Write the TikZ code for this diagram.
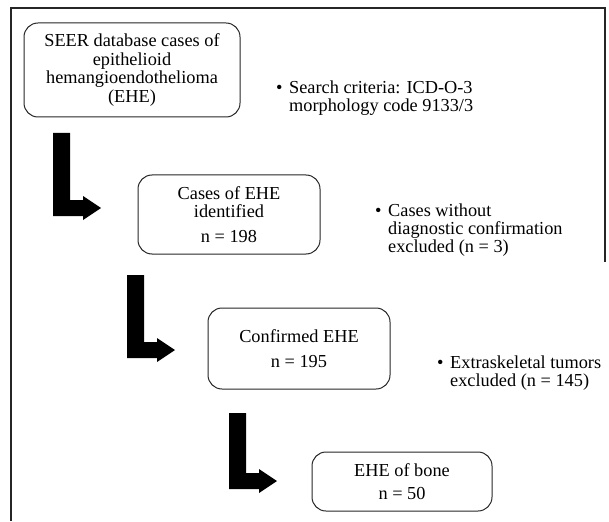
\documentclass[tikz,border=0pt]{standalone}
\usepackage{fontspec}
\setmainfont{Liberation Serif}
\begin{document}
\begin{tikzpicture}[x=1pt,y=-1pt,
  box/.style={draw=black!85, line width=1pt, rounded corners=14pt, align=center, inner sep=0pt,
    font=\fontsize{18.3}{18.6}\selectfont},
  note/.style={anchor=west, inner sep=0pt, align=left, font=\fontsize{18.3}{18.3}\selectfont},
  frameline/.style={line width=1.3pt, draw=black!85},
  larrow/.pic={\fill[black] (0,0) -- (17,0) -- (17,#1-16) -- (30,#1-16) -- (30,#1-20)
      -- (48,#1-8) -- (30,#1+4) -- (30,#1) -- (0,#1) -- cycle;}
]
\useasboundingbox (0,0) rectangle (609,521);
% frame
\draw[frameline] (11,521) -- (11,8) -- (605,8) -- (605,262);
% boxes
\node[box, minimum width=216pt, minimum height=94pt] (b1) at (132,70)
  {SEER database cases of\\epithelioid\\hemangioendothelioma\\(EHE)};
\node[box, minimum width=182pt, minimum height=79pt] (b2) at (229,214.5)
  {Cases of EHE\\identified\\[6pt]n = 198};
\node[box, minimum width=182pt, minimum height=81pt] (b3) at (299,348.5)
  {Confirmed EHE\\[7pt]n = 195};
\node[box, minimum width=180pt, minimum height=59pt] (b4) at (402,481.5)
  {EHE of bone\\[5pt]n = 50};
% notes
\node[note] (n1) at (276,98.5)
  {\begin{tabular}{@{}p{13pt}@{}l@{}}\textbullet & Search criteria: ICD-O-3\\ & morphology code 9133/3\end{tabular}};
\node[note] (n2) at (375,231)
  {\begin{tabular}{@{}p{13pt}@{}l@{}}\textbullet & Cases without\\ & diagnostic confirmation\\ & excluded (n = 3)\end{tabular}};
\node[note] (n3) at (437,374)
  {\begin{tabular}{@{}p{13pt}@{}l@{}}\textbullet & Extraskeletal tumors\\ & excluded (n = 145)\end{tabular}};
% L-shaped arrows
\pic at (53,133) {larrow=83};
\pic at (127,275) {larrow=83};
\pic at (229,413) {larrow=76};
\end{tikzpicture}
\end{document}
